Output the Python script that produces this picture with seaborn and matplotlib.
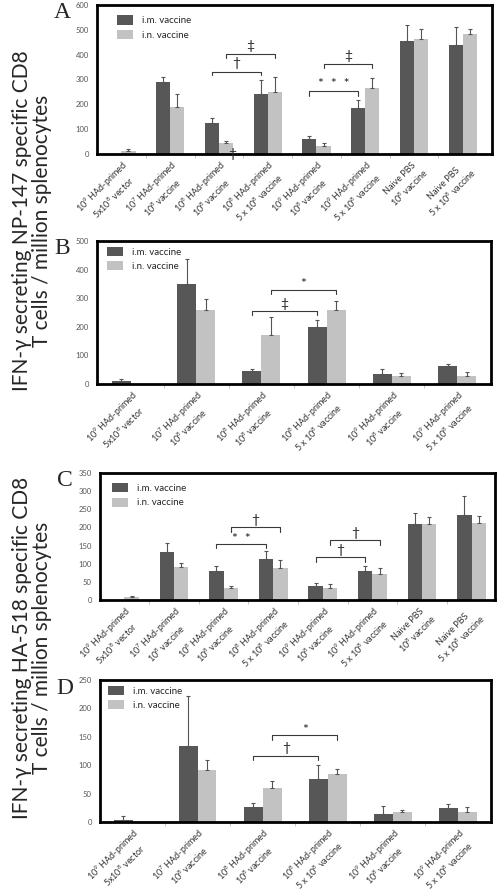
import numpy as np
import pandas as pd
import matplotlib
matplotlib.use('Agg')
import matplotlib.pyplot as plt
import seaborn as sns

sns.set_theme(style='white')
plt.rcParams['font.family'] = ['Lato', 'DejaVu Sans']
plt.rcParams['mathtext.fontset'] = 'custom'
plt.rcParams['mathtext.rm'] = 'Lato'
plt.rcParams['mathtext.it'] = 'Lato:italic'
plt.rcParams['mathtext.bf'] = 'Lato:bold'

routes = ['i.m. vaccine', 'i.n. vaccine']
colors = ['#575757', '#c2c2c2']

labels_8 = ['10$^9$ HAd-primed\n5x10$^8$ vector',
            '10$^7$ HAd-primed\n10$^8$ vaccine',
            '10$^8$ HAd-primed\n10$^8$ vaccine',
            '10$^8$ HAd-primed\n5 x 10$^8$ vaccine',
            '10$^9$ HAd-primed\n10$^8$ vaccine',
            '10$^9$ HAd-primed\n5 x 10$^8$ vaccine',
            'Naive PBS\n10$^8$ vaccine',
            'Naive PBS\n5 x 10$^8$ vaccine']
labels_6 = labels_8[:6]

# A: NP-147, 8 groups
a_im = [0, 288, 124, 242, 60, 184, 456, 439]
a_in = [14, 190, 43, 248, 34, 264, 464, 485]
a_im_err = [0, 23, 22, 55, 14, 33, 63, 71]
a_in_err = [7, 50, 11, 63, 9, 43, 41, 17]

# B: NP-147, 6 groups
b_im = [10, 351, 45, 198, 35, 63]
b_in = [0, 258, 173, 260, 29, 29]
b_im_err = [6, 85, 7, 25, 16, 6]
b_in_err = [0, 39, 62, 30, 8, 13]

# C: HA-518, 8 groups
c_im = [0, 133, 79, 113, 38, 79, 209, 234]
c_in = [8, 90, 34, 89, 34, 73, 209, 213]
c_im_err = [0, 25, 15, 22, 10, 14, 32, 53]
c_in_err = [3, 11, 5, 21, 9, 14, 21, 18]

# D: HA-518, 6 groups
d_im = [4, 134, 26, 75, 14, 25]
d_in = [0, 91, 59, 84, 18, 18]
d_im_err = [7, 87, 8, 25, 15, 7]
d_in_err = [0, 19, 14, 9, 3, 8]

# brackets: (group1, route1, group2, route2, line y, tick end y, text, text y, text size)
a_brackets = [(2, 0, 3, 0, 332, 318, '†', 366, 10),
              (2, 1, 3, 1, 402, 385, '‡', 433, 10),
              (4, 0, 5, 0, 254, 235, '*  *  *', 280, 10),
              (4, 1, 5, 1, 361, 345, '‡', 394, 10)]
b_brackets = [(2, 0, 3, 0, 256, 241, '‡', 279, 10),
              (2, 1, 3, 1, 330, 316, '*', 348, 10)]
c_brackets = [(2, 0, 3, 0, 155, 143, '*  *', 167, 10),
              (2, 1, 3, 1, 201, 187, '†', 221, 10),
              (4, 0, 5, 0, 118, 106, '†', 138, 10),
              (4, 1, 5, 1, 164, 152, '†', 186, 10)]
d_brackets = [(2, 0, 3, 0, 117, 110, '†', 131, 10),
              (2, 1, 3, 1, 153, 144, '*', 162, 10)]

W, H = 501, 893
fig = plt.figure(figsize=(W / 100, H / 100), dpi=100)


def panel(rect, labels, im, inn, im_err, in_err, ymax, ystep, brackets, letter, leg_anchor, xlim):
    l, t, r, b = rect
    ax = fig.add_axes([l / W, 1 - b / H, (r - l) / W, (b - t) / H])
    df = pd.DataFrame({
        'group': list(range(len(labels))) * 2,
        'route': [routes[0]] * len(labels) + [routes[1]] * len(labels),
        'value': im + inn,
    })
    sns.barplot(data=df, x='group', y='value', hue='route', hue_order=routes,
                palette=colors, errorbar=None, width=0.58, gap=0, saturation=1,
                linewidth=0, ax=ax)
    bars = list(ax.containers[:2])
    errs = [im_err, in_err]
    for k, cont in enumerate(bars):
        for j, p in enumerate(cont.patches):
            if p.get_height() <= 0 or errs[k][j] <= 0:
                continue
            xc = p.get_x() + p.get_width() / 2
            ax.errorbar(xc, p.get_height(), yerr=[[0], [errs[k][j]]], fmt='none',
                        ecolor='#555555', elinewidth=0.8, capsize=1.6, capthick=0.8)
    for g1, r1, g2, r2, y, y0, txt, ty, fs in brackets:
        p1 = bars[r1].patches[g1]
        p2 = bars[r2].patches[g2]
        x1 = p1.get_x() + p1.get_width() / 2
        x2 = p2.get_x() + p2.get_width() / 2
        ax.plot([x1, x1, x2, x2], [y0, y, y, y0], color='#3a3a3a', lw=0.8)
        ax.text((x1 + x2) / 2, ty, txt, ha='center', va='center', fontsize=fs,
                color='#222222')
    ax.set_xlim(*xlim)
    ax.set_ylim(0, ymax)
    ax.set_yticks(np.arange(0, ymax + 1, ystep))
    ax.tick_params(axis='y', length=0, labelsize=5.5, labelcolor='#555555', pad=6)
    ax.set_xticks(range(len(labels)))
    ax.set_xticklabels(labels, rotation=45, ha='right', rotation_mode='anchor',
                       fontsize=6.5, color='#333333', multialignment='center')
    ax.set_xticks(np.arange(len(labels) - 1) + 0.5, minor=True)
    ax.tick_params(axis='x', which='major', length=0, pad=3)
    ax.tick_params(axis='x', which='minor', bottom=True, length=3, width=0.6,
                   color='#bbbbbb')
    ax.set_xlabel('')
    ax.set_ylabel('')
    for s in ax.spines.values():
        s.set_visible(True)
        s.set_linewidth(2)
        s.set_color('black')
    leg = ax.get_legend()
    handles = leg.legend_handles
    ax.legend(handles, routes, loc='upper left', bbox_to_anchor=leg_anchor,
              frameon=False, fontsize=7, handlelength=1.7, handleheight=1.1,
              handletextpad=0.9, labelspacing=0.45, borderaxespad=0, borderpad=0)
    fig.text((l - 35) / W, 1 - (t + 8) / H, letter, fontsize=17,
             family='Liberation Serif', ha='center', va='center')
    return ax


axA = panel((97, 5, 492, 154), labels_8, a_im, a_in, a_im_err, a_in_err, 600, 100,
            a_brackets, 'A', (0.05, 0.93), (-0.5, 7.6))
axA.text(2.28, 0, '†', ha='center', va='center', fontsize=10, clip_on=False)
panel((97, 241, 491, 384), labels_6, b_im, b_in, b_im_err, b_in_err, 500, 100,
      b_brackets, 'B', (0.025, 0.96), (-0.52, 5.52))
panel((100, 473, 495, 600), labels_8, c_im, c_in, c_im_err, c_in_err, 350, 50,
      c_brackets, 'C', (0.03, 0.92), (-0.49, 7.47))
panel((100, 680, 491, 822), labels_6, d_im, d_in, d_im_err, d_in_err, 250, 50,
      d_brackets, 'D', (0.02, 0.96), (-0.5, 5.51))

fig.text(32 / W, 1 - 221 / H, 'IFN-γ secreting NP-147 specific CD8\nT cells / million splenocytes',
         rotation=90, ha='center', va='center', fontsize=15, linespacing=1.0)
fig.text(32 / W, 1 - 648 / H, 'IFN-γ secreting HA-518 specific CD8\nT cells / million splenocytes',
         rotation=90, ha='center', va='center', fontsize=15, linespacing=1.0)

fig.savefig('out.png', dpi=100)
